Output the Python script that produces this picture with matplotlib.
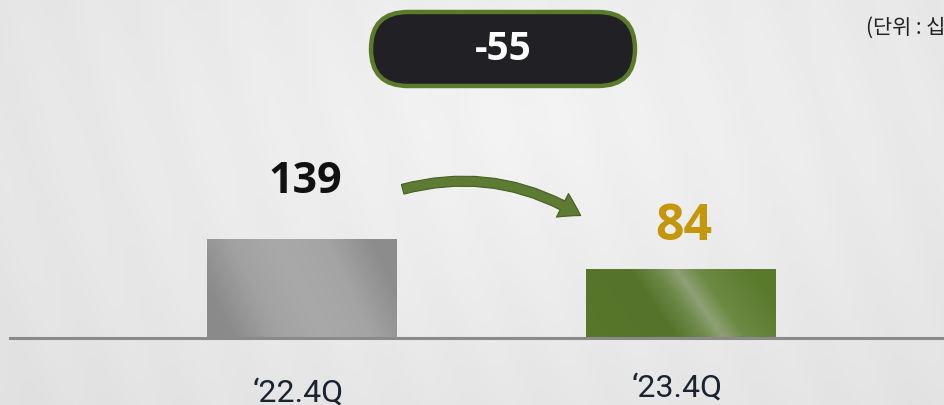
import numpy as np
import matplotlib
matplotlib.use('Agg')
import matplotlib.pyplot as plt
from matplotlib.patches import FancyBboxPatch, FancyArrowPatch
from matplotlib.colors import LinearSegmentedColormap

# ---- data ----
categories = ["\u201822.4Q", "\u201823.4Q"]
values = [139, 84]
change_label = "-55"
unit_label = "(단위 : 십억원)"
y_floor = -42          # value at the baseline of the original chart

W, H = 945, 405
fig = plt.figure(figsize=(W / 100, H / 100), dpi=100)
NUM_FONT = ["Open Sans", "DejaVu Sans"]

# ---- background (pixel coords, y down) ----
bg = fig.add_axes([0, 0, 1, 1])
bg.set_xlim(0, W)
bg.set_ylim(H, 0)
bg.set_axis_off()
yy, xx = np.mgrid[0:H, 0:W]
d = np.hypot((xx - 520) / 700.0, (yy - 120) / 380.0)
lum = 0.955 - 0.07 * d
streak = 0.004 * np.sin((xx * 0.95 - yy * 0.3) / 11.0)
lum = np.clip(lum + streak, 0, 1)
bg.imshow(np.dstack([lum, lum, lum]), extent=(0, W, H, 0), aspect='auto', zorder=0)

# badge
badge = FancyBboxPatch((371, 12), 264, 74, boxstyle="round,pad=0,rounding_size=37",
                       fc="#202025", ec="#5b7a2b", lw=3.2, zorder=3)
bg.add_patch(badge)
bg.text(503, 49, change_label, color="white", fontsize=28, fontweight="bold",
        family=NUM_FONT, ha="center", va="center", zorder=4)

# unit label
bg.text(866, 28, unit_label, color="#222222", fontsize=15,
        family=["Noto Sans CJK KR", "DejaVu Sans"], ha="left", va="center", zorder=4)

# arrow
arrow = FancyArrowPatch((400, 190), (583, 217), connectionstyle="arc3,rad=-0.22",
                        arrowstyle="simple,head_length=0.75,head_width=0.95,tail_width=0.36",
                        mutation_scale=20, fc="#5d7b32", ec="#44601f", lw=0.8, zorder=3)
bg.add_patch(arrow)

# ---- bars ----
ax = fig.add_axes([0, 0, 1, 1])
ax.patch.set_alpha(0)
ax.set_axis_off()
s = 379.0
ax.set_xlim(-302 / s, (W - 302) / s)
ppu = 99.0 / (values[0] - y_floor)
ax.set_ylim(y_floor - 67 / ppu, y_floor + 338 / ppu)

x = np.arange(len(categories))
heights = np.array(values) - y_floor
bars = ax.bar(x, heights, bottom=y_floor, width=0.5, color=["#9a9a9a", "#5a7a2b"],
              ec="none", zorder=2)

gray_cmap = LinearSegmentedColormap.from_list(
    "g", ["#8a8a8a", "#a2a2a2", "#a9a9a9", "#a4a4a4", "#8c8c8c"])
green_cmap = LinearSegmentedColormap.from_list(
    "gr", [(0, "#577628"), (0.35, "#55742a"), (0.5, "#6f8a4a"), (0.6, "#8fa075"),
           (0.72, "#6d8a45"), (1, "#5a7a2b")])
for b, cm in zip(bars, [gray_cmap, green_cmap]):
    x0, y0 = b.get_x(), b.get_y()
    w, h = b.get_width(), b.get_height()
    gy, gx = np.mgrid[0:1:60j, 0:1:120j]
    u = np.clip(gx + 0.25 * (gy - 0.5), 0, 1)
    im = ax.imshow(u, cmap=cm, extent=(x0, x0 + w, y0, y0 + h), origin="lower",
                   aspect="auto", zorder=2.5, vmin=0, vmax=1)
    im.set_clip_path(b)

ax.axhline(y_floor, xmin=10 / W, xmax=1, color="#8a8a8a", lw=2.2, zorder=3)

# value labels
val_offsets = [46, 29]
val_sizes = [31, 36]
val_colors = ["#111111", "#c4960c"]
for xi, v, off, fs, c in zip(x, values, val_offsets, val_sizes, val_colors):
    ax.annotate(str(v), (xi, v), xytext=(3, off), textcoords="offset pixels",
                ha="center", va="baseline", fontsize=fs, fontweight="bold", color=c,
                family=NUM_FONT, zorder=4)

# category labels
cat_offsets = [-64, -59]
for xi, lab, off in zip(x, categories, cat_offsets):
    ax.annotate(lab, (xi, y_floor), xytext=(-4, off), textcoords="offset pixels",
                ha="center", va="baseline", fontsize=23, color="#1b2330",
                family=["Roboto", "DejaVu Sans"], zorder=4)

fig.savefig("out.png", dpi=100)
